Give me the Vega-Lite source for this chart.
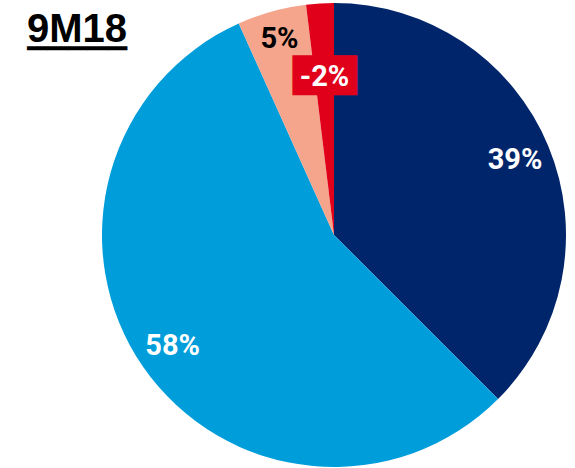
{
  "$schema": "https://vega.github.io/schema/vega-lite/v6.json",
  "width": 482,
  "height": 468,
  "autosize": {"type": "none"},
  "padding": {"left": 93, "top": 1, "right": 0, "bottom": 0},
  "background": "white",
  "title": {
    "text": "9M18",
    "subtitle": "▁▁▁▁▁",
    "anchor": "start",
    "frame": "group",
    "font": "Liberation Sans",
    "fontSize": 40,
    "fontWeight": "bold",
    "color": "black",
    "subtitleFont": "DejaVu Sans",
    "subtitleFontSize": 26,
    "subtitleColor": "black",
    "subtitlePadding": -27,
    "dx": -66,
    "dy": 49,
    "offset": 0
  },
  "data": {
    "values": [
      {"segment": "Segment 1", "idx": 1, "value": 39, "label": "39%"},
      {"segment": "Segment 2", "idx": 2, "value": 58, "label": "58%"},
      {"segment": "Segment 3", "idx": 3, "value": 5, "label": "5%"},
      {"segment": "Segment 4", "idx": 4, "value": 2, "label": "-2%"}
    ]
  },
  "encoding": {
    "theta": {"field": "value", "type": "quantitative", "stack": true},
    "order": {"field": "idx", "type": "quantitative"}
  },
  "layer": [
    {
      "mark": {"type": "arc", "outerRadius": 232},
      "encoding": {
        "color": {
          "field": "segment",
          "type": "nominal",
          "scale": {
            "domain": ["Segment 1", "Segment 2", "Segment 3", "Segment 4"],
            "range": ["#00256B", "#009DDB", "#F4A58C", "#E1001A"]
          },
          "legend": null
        }
      }
    },
    {
      "mark": {"type": "text", "radius": 158, "dx": 7, "font": "DejaVu Sans", "fontSize": 33.5, "baseline": "middle", "align": "center", "color": "#E1001A"},
      "encoding": {
        "text": {"condition": {"test": "datum.idx == 4", "value": "██▌"}, "value": ""}
      }
    },
    {
      "mark": {"type": "text", "radius": 196, "font": "Roboto", "fontWeight": "bold", "fontSize": 29, "baseline": "middle", "align": "center", "color": "white"},
      "encoding": {
        "text": {"condition": {"test": "datum.idx <= 2", "field": "label"}, "value": ""}
      }
    },
    {
      "mark": {"type": "text", "radius": 203, "font": "Roboto", "fontWeight": "bold", "fontSize": 29, "baseline": "middle", "align": "center", "color": "black"},
      "encoding": {
        "text": {"condition": {"test": "datum.idx == 3", "field": "label"}, "value": ""}
      }
    },
    {
      "mark": {"type": "text", "radius": 158, "font": "Roboto", "fontWeight": "bold", "fontSize": 29, "baseline": "middle", "align": "center", "color": "white"},
      "encoding": {
        "text": {"condition": {"test": "datum.idx == 4", "field": "label"}, "value": ""}
      }
    }
  ]
}
